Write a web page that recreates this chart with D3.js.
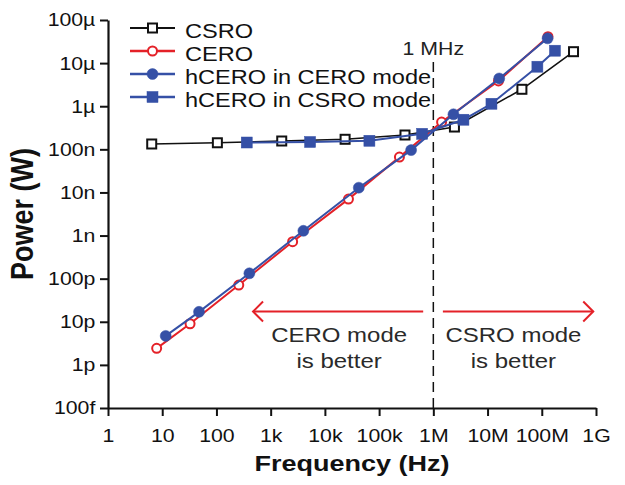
<!DOCTYPE html>
<html>
<head>
<meta charset="utf-8">
<script src="https://cdn.jsdelivr.net/npm/d3@7"></script>
<style>
  html, body { margin: 0; padding: 0; background: #fff; }
  svg { display: block; font-family: "Liberation Sans", Arial, Helvetica, sans-serif; }
</style>
</head>
<body>
<svg id="chart" width="625" height="485"></svg>
<script>
// ---------------- data ----------------
const csroFreq  = [6.4, 104, 1.6e3, 2.36e4, 3.0e5, 2.45e6, 4.3e7, 3.85e8];
const csroPower = [1.33e-7, 1.42e-7, 1.56e-7, 1.71e-7, 2.15e-7, 3.29e-7, 2.47e-6, 1.84e-5];

const ceroFreq  = [7.9, 32.6, 258, 2540, 2.72e4, 2.37e5, 1.42e6, 1.59e7, 1.30e8];
const ceroPower = [2.42e-12, 9.0e-12, 7.1e-11, 7.2e-10, 7.0e-9, 6.6e-8, 4.3e-7, 3.85e-6, 4.1e-5];

const hceroCeroFreq  = [11.6, 47.7, 405, 4010, 4.22e4, 3.89e5, 2.35e6, 1.64e7, 1.28e8];
const hceroCeroPower = [4.7e-12, 1.7e-11, 1.33e-10, 1.29e-9, 1.29e-8, 9.6e-8, 6.5e-7, 4.4e-6, 3.76e-5];

const hceroCsroFreq  = [362, 5330, 6.62e4, 6.21e5, 3.59e6, 1.18e7, 8.3e7, 1.75e8];
const hceroCsroPower = [1.44e-7, 1.48e-7, 1.58e-7, 2.29e-7, 4.86e-7, 1.14e-6, 8.25e-6, 1.94e-5];

const xTickValues = [1, 10, 100, 1e3, 1e4, 1e5, 1e6, 1e7, 1e8, 1e9];
const xTickLabels = ["1", "10", "100", "1k", "10k", "100k", "1M", "10M", "100M", "1G"];
const yTickValues = [1e-4, 1e-5, 1e-6, 1e-7, 1e-8, 1e-9, 1e-10, 1e-11, 1e-12, 1e-13];
const yTickLabels = ["100\u00b5", "10\u00b5", "1\u00b5", "100n", "10n", "1n", "100p", "10p", "1p", "100f"];

const seriesNames = ["CSRO", "CERO", "hCERO in CERO mode", "hCERO in CSRO mode"];

// annotations (data coordinates)
const dividerFreq = 1e6;
const dividerLabel = "1 MHz";
const arrowPower = 1.73e-11;
const leftArrowFreq = [473, 6.5e5];
const rightArrowFreq = [1.5e6, 8.9e8];
const leftNoteFreq = 1.83e4;
const rightNoteFreq = 3.0e7;
const leftNote = ["CERO mode", "is better"];
const rightNote = ["CSRO mode", "is better"];

// ---------------- drawing ----------------
const RED = "#e42128", BLUE = "#3550a6", BLACK = "#111";
const SX = 1.15; // horizontal text stretch of the original

const svg = d3.select("#chart");
const x = d3.scaleLog().domain([1, 1e9]).range([108, 596]);
const y = d3.scaleLog().domain([1e-13, 1e-4]).range([408, 20]);

// axes
const xAxis = d3.axisBottom(x).tickValues(xTickValues)
  .tickFormat((d, i) => xTickLabels[i]).tickSize(8).tickSizeOuter(0).tickPadding(13);
const yAxis = d3.axisLeft(y).tickValues(yTickValues)
  .tickFormat((d, i) => yTickLabels[i]).tickSize(8).tickSizeOuter(0).tickPadding(3);

const gx = svg.append("g").attr("transform", `translate(0,${y.range()[0]})`).call(xAxis);
const gy = svg.append("g").attr("transform", `translate(${x.range()[0]},0)`).call(yAxis);
[gx, gy].forEach(g => {
  g.select(".domain").attr("stroke", BLACK).attr("stroke-width", 2.2);
  g.selectAll(".tick line").attr("stroke", BLACK).attr("stroke-width", 2);
  g.selectAll(".tick text").attr("fill", BLACK)
    .style("font-family", "Liberation Sans, Arial, sans-serif")
    .style("font-size", "18.5px")
    .attr("transform", `scale(${SX},1)`);
});

// axis titles
svg.append("text")
  .attr("transform", `translate(${(x.range()[0] + x.range()[1]) / 2},471) scale(1.2,1)`)
  .attr("text-anchor", "middle").attr("font-weight", "bold").attr("font-size", 22.5)
  .attr("fill", BLACK).text("Frequency (Hz)");
svg.append("text")
  .attr("transform", `translate(33,${(y.range()[0] + y.range()[1]) / 2}) scale(${SX},1) rotate(-90)`)
  .attr("text-anchor", "middle").attr("font-weight", "bold").attr("font-size", 27)
  .attr("fill", BLACK).text("Power (W)");

// divider
svg.append("line")
  .attr("x1", x(dividerFreq)).attr("x2", x(dividerFreq))
  .attr("y1", 62).attr("y2", y.range()[0])
  .attr("stroke", BLACK).attr("stroke-width", 1.5).attr("stroke-dasharray", "10,6");
svg.append("text")
  .attr("transform", `translate(${x(dividerFreq)},55) scale(${SX},1)`)
  .attr("text-anchor", "middle").attr("font-size", 18.5).attr("fill", "#222")
  .text(dividerLabel);

// arrows
const ay = y(arrowPower);
function arrow(x1, x2, dir) {
  svg.append("line").attr("x1", x1).attr("x2", x2).attr("y1", ay).attr("y2", ay)
    .attr("stroke", RED).attr("stroke-width", 2);
  const tip = dir < 0 ? x1 : x2;
  svg.append("path")
    .attr("d", `M${tip - dir * 10},${ay - 10} L${tip},${ay} L${tip - dir * 10},${ay + 10}`)
    .attr("fill", "none").attr("stroke", RED).attr("stroke-width", 2);
}
arrow(x(leftArrowFreq[0]), x(leftArrowFreq[1]), -1);
arrow(x(rightArrowFreq[0]), x(rightArrowFreq[1]), 1);

function note(freq, lines) {
  lines.forEach((t, i) => {
    svg.append("text")
      .attr("transform", `translate(${x(freq)},${341.5 + i * 26.5}) scale(1.17,1)`)
      .attr("text-anchor", "middle").attr("font-size", 20.5).attr("fill", "#2a2a2a")
      .text(t);
  });
}
note(leftNoteFreq, leftNote);
note(rightNoteFreq, rightNote);

// series
const series = [
  { f: csroFreq, p: csroPower, color: BLACK, shape: "square", fill: "#fff", lw: 1.6 },
  { f: ceroFreq, p: ceroPower, color: RED, shape: "circle", fill: "#fff", lw: 2 },
  { f: hceroCeroFreq, p: hceroCeroPower, color: BLUE, shape: "circle", fill: BLUE, lw: 2 },
  { f: hceroCsroFreq, p: hceroCsroPower, color: BLUE, shape: "square", fill: BLUE, lw: 2 }
];

const line = d3.line().x(d => x(d[0])).y(d => y(d[1]));

function marker(g, cx, cy, s) {
  if (s.shape === "square") {
    const sz = s.fill === "#fff" ? 9 : 11;
    g.append("rect").attr("x", cx - sz / 2).attr("y", cy - sz / 2)
      .attr("width", sz).attr("height", sz)
      .attr("fill", s.fill).attr("stroke", s.color).attr("stroke-width", s.fill === "#fff" ? 2 : 0.5);
  } else {
    const r = s.fill === "#fff" ? 4.5 : 5.5;
    g.append("circle").attr("cx", cx).attr("cy", cy).attr("r", r)
      .attr("fill", s.fill).attr("stroke", s.color).attr("stroke-width", s.fill === "#fff" ? 2 : 0.5);
  }
}

series.forEach(s => {
  const pts = s.f.map((f, i) => [f, s.p[i]]);
  const g = svg.append("g");
  g.append("path").datum(pts).attr("d", line)
    .attr("fill", "none").attr("stroke", s.color).attr("stroke-width", s.lw);
  pts.forEach(d => marker(g, x(d[0]), y(d[1]), s));
});

// legend
const legendBase = [37.5, 60.5, 83.5, 106.5];
series.forEach((s, i) => {
  const g = svg.append("g");
  const ly = legendBase[i] - 9.5;
  g.append("line").attr("x1", 130).attr("x2", 175).attr("y1", ly).attr("y2", ly)
    .attr("stroke", s.color).attr("stroke-width", s.lw + 0.4);
  marker(g, 152.5, ly, s);
  svg.append("text")
    .attr("transform", `translate(185,${legendBase[i]}) scale(${SX},1)`)
    .attr("font-size", 20.5).attr("fill", BLACK).text(seriesNames[i]);
});
</script>
</body>
</html>
